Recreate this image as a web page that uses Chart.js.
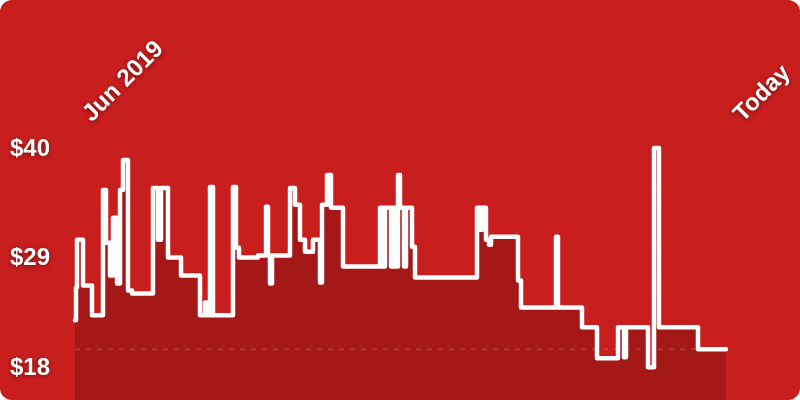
<!DOCTYPE html>
<html>
<head>
<meta charset="utf-8">
<title>Price history</title>
<script src="https://cdn.jsdelivr.net/npm/chart.js"></script>
<style>
    html, body { margin: 0; padding: 0; background: #ffffff; }
    .card {
        width: 800px; height: 400px;
        border-radius: 12px; overflow: hidden;
        background: #c81e1e;
        position: relative;
    }
    canvas { display: block; }
</style>
</head>
<body>
<div class="card"><canvas id="priceChart" width="800" height="400"></canvas></div>
<script>
// Price history, day offsets counted from Jun 2019 (each value holds until the next change)
const days = [0, 2, 4, 16, 34, 56, 62, 70, 76, 84, 90, 96, 106, 114, 156, 166, 172, 186, 212, 250,
    260, 264, 270, 276, 316, 322, 328, 366, 382, 386, 390, 394, 430, 440, 450, 460, 476, 490, 494, 504,
    512, 536, 610, 616, 620, 632, 636, 642, 646, 650, 658, 662, 674, 680, 804, 810, 814, 822, 828, 832,
    886, 892, 962, 966, 1014, 1044, 1086, 1098, 1102, 1146, 1158, 1168, 1246, 1302];
const prices = [22.7, 26.0, 30.8, 26.2, 23.2, 35.8, 30.5, 27.2, 33.0, 26.4, 35.8, 38.8, 25.7, 25.4, 36.0, 30.8, 36.0, 29.0, 27.2, 23.2,
    24.5, 23.2, 36.1, 23.2, 36.1, 30.0, 29.0, 29.2, 34.1, 29.2, 26.4, 29.2, 36.0, 34.3, 30.8, 29.6, 30.8, 26.5, 34.3, 37.3,
    34.0, 28.1, 34.0, 28.1, 34.0, 28.1, 34.0, 28.1, 37.3, 34.0, 28.1, 34.0, 30.1, 27.0, 34.0, 31.8, 34.0, 30.8, 30.3, 31.1,
    26.7, 24.0, 31.1, 24.0, 22.0, 18.9, 22.0, 19.0, 22.0, 18.0, 40.0, 22.0, 19.8, 19.8];
const currentPrice = 19.8;

const yTickValues = [18, 29, 40];
const yTickLabels = ['$18', '$29', '$40'];
const xTickLabels = ['Jun 2019', 'Today'];

const series = days.map((d, i) => ({ x: d, y: prices[i] }));
const firstDay = days[0];
const lastDay = days[days.length - 1];

// draws the $ labels and the two rotated date labels
const labelPlugin = {
    id: 'labels',
    afterDraw(chart) {
        const ctx = chart.ctx;
        const xs = chart.scales.x;
        const ys = chart.scales.y;
        ctx.save();
        ctx.fillStyle = '#ffffff';
        ctx.shadowColor = 'rgba(0,0,0,0.45)';
        ctx.shadowBlur = 4;
        ctx.shadowOffsetY = 1;
        ctx.font = 'bold 24px "Liberation Sans", Arial, sans-serif';
        ctx.textAlign = 'left';
        ctx.textBaseline = 'middle';
        yTickValues.forEach((v, i) => {
            ctx.fillText(yTickLabels[i], 10, ys.getPixelForValue(v) + 1);
        });
        [firstDay, lastDay].forEach((d, i) => {
            ctx.save();
            ctx.translate(xs.getPixelForValue(d) + 12, 118);
            ctx.rotate(-Math.PI / 4);
            ctx.fillText(xTickLabels[i], 0, 0);
            ctx.restore();
        });
        ctx.restore();
    }
};

new Chart(document.getElementById('priceChart'), {
    type: 'line',
    data: {
        datasets: [{
            data: series,
            // 'before' keeps each price flat until the next change
            stepped: 'before',
            borderColor: '#ffffff',
            borderWidth: 4.5,
            borderJoinStyle: 'round',
            borderCapStyle: 'round',
            backgroundColor: '#a51818',
            fill: 'start',
            pointRadius: 0,
            order: 1
        }, {
            // current price marker
            data: [{ x: firstDay, y: currentPrice }, { x: lastDay, y: currentPrice }],
            borderColor: 'rgba(190,190,190,0.35)',
            borderWidth: 1,
            borderDash: [5, 6],
            fill: false,
            pointRadius: 0,
            order: 2
        }]
    },
    options: {
        responsive: false,
        animation: false,
        layout: { padding: 0 },
        plugins: {
            legend: { display: false },
            tooltip: { enabled: false },
            filler: { drawTime: 'beforeDatasetsDraw' }
        },
        scales: {
            x: { type: 'linear', min: -150, max: 1450, display: false },
            y: { min: 14.7, max: 54.87, display: false }
        }
    },
    plugins: [labelPlugin]
});
</script>
</body>
</html>
